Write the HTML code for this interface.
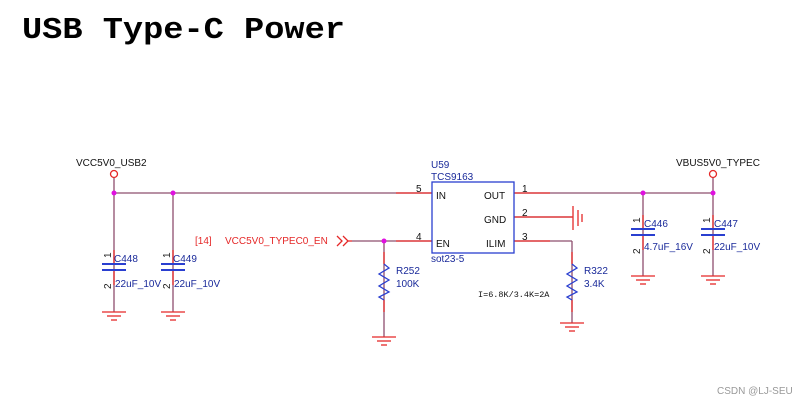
<!DOCTYPE html>
<html><head><meta charset="utf-8"><style>
body{margin:0;background:#fff;width:812px;height:405px;overflow:hidden}
svg{display:block}
.t{font-family:"Liberation Sans",sans-serif;font-size:10px}
</style></head><body>
<svg width="812" height="405" viewBox="0 0 812 405" xmlns="http://www.w3.org/2000/svg">
<text x="22" y="38" font-family="Liberation Mono,monospace" font-weight="bold" font-size="31" textLength="323" lengthAdjust="spacingAndGlyphs">USB Type-C Power</text>

<g stroke="#8e4f6e" stroke-width="1.3" fill="none">
<line x1="114" y1="178" x2="114" y2="312"/>
<line x1="114" y1="193" x2="432" y2="193"/>
<line x1="173" y1="193" x2="173" y2="312"/>
<line x1="352" y1="241" x2="432" y2="241"/>
<line x1="384" y1="241" x2="384" y2="337"/>
<line x1="514" y1="193" x2="713" y2="193"/>
<line x1="713" y1="178" x2="713" y2="276"/>
<line x1="643" y1="193" x2="643" y2="276"/>
<line x1="514" y1="217" x2="572" y2="217"/>
<line x1="514" y1="241" x2="572" y2="241"/>
<line x1="572" y1="241" x2="572" y2="323"/>
</g>
<g stroke="#e52828" stroke-width="1.3" fill="none">
<line x1="396" y1="193" x2="432" y2="193"/>
<line x1="396" y1="241" x2="432" y2="241"/>
<line x1="514" y1="193" x2="550" y2="193"/>
<line x1="514" y1="217" x2="550" y2="217"/>
<line x1="514" y1="241" x2="550" y2="241"/>
<line x1="114" y1="250" x2="114" y2="263"/><line x1="114" y1="271" x2="114" y2="285"/>
<line x1="173" y1="250" x2="173" y2="263"/><line x1="173" y1="271" x2="173" y2="285"/>
<line x1="643" y1="215" x2="643" y2="228"/><line x1="643" y1="236" x2="643" y2="250"/>
<line x1="713" y1="215" x2="713" y2="228"/><line x1="713" y1="236" x2="713" y2="250"/>
<line x1="384" y1="252" x2="384" y2="264"/><line x1="384" y1="300" x2="384" y2="312"/>
<line x1="572" y1="252" x2="572" y2="264"/><line x1="572" y1="300" x2="572" y2="312"/>
</g>
<g stroke="#e52828" stroke-width="1.3">
<g transform="translate(114,312)"><line x1="-12" y1="0" x2="12" y2="0"/><line x1="-7" y1="4" x2="7" y2="4"/><line x1="-3" y1="8" x2="3" y2="8"/></g>
<g transform="translate(173,312)"><line x1="-12" y1="0" x2="12" y2="0"/><line x1="-7" y1="4" x2="7" y2="4"/><line x1="-3" y1="8" x2="3" y2="8"/></g>
<g transform="translate(384,337)"><line x1="-12" y1="0" x2="12" y2="0"/><line x1="-7" y1="4" x2="7" y2="4"/><line x1="-3" y1="8" x2="3" y2="8"/></g>
<g transform="translate(572,323)"><line x1="-12" y1="0" x2="12" y2="0"/><line x1="-7" y1="4" x2="7" y2="4"/><line x1="-3" y1="8" x2="3" y2="8"/></g>
<g transform="translate(643,276)"><line x1="-12" y1="0" x2="12" y2="0"/><line x1="-7" y1="4" x2="7" y2="4"/><line x1="-3" y1="8" x2="3" y2="8"/></g>
<g transform="translate(713,276)"><line x1="-12" y1="0" x2="12" y2="0"/><line x1="-7" y1="4" x2="7" y2="4"/><line x1="-3" y1="8" x2="3" y2="8"/></g>
<line x1="573" y1="206" x2="573" y2="230"/><line x1="578" y1="210" x2="578" y2="226"/><line x1="582" y1="214" x2="582" y2="222"/>
</g>
<line x1="550" y1="217" x2="573" y2="217" stroke="#e52828" stroke-width="1.3"/>
<g stroke="#2a3fd0" stroke-width="2">
<line x1="102" y1="264" x2="126" y2="264"/><line x1="102" y1="270" x2="126" y2="270"/>
<line x1="161" y1="264" x2="185" y2="264"/><line x1="161" y1="270" x2="185" y2="270"/>
<line x1="631" y1="229" x2="655" y2="229"/><line x1="631" y1="235" x2="655" y2="235"/>
<line x1="701" y1="229" x2="725" y2="229"/><line x1="701" y1="235" x2="725" y2="235"/>
</g>
<g stroke="#2a3fd0" stroke-width="1.3" fill="none">
<polyline points="384,264 389,268 379,274 389,280 379,286 389,292 379,297 384,300"/>
<polyline points="572,264 577,268 567,274 577,280 567,286 577,292 567,297 572,300"/>
<rect x="432" y="182" width="82" height="71"/>
</g>
<circle cx="114" cy="174" r="3.5" fill="#fff" stroke="#e52828" stroke-width="1.3"/>
<circle cx="713" cy="174" r="3.5" fill="#fff" stroke="#e52828" stroke-width="1.3"/>
<g fill="#e010e0">
<circle cx="114" cy="193" r="2.5"/><circle cx="173" cy="193" r="2.5"/><circle cx="384" cy="241" r="2.5"/>
<circle cx="643" cy="193" r="2.5"/><circle cx="713" cy="193" r="2.5"/>
</g>
<polyline points="337,236 342,241 337,246" stroke="#e52828" fill="none" stroke-width="1.3"/>
<polyline points="343,236 348,241 343,246" stroke="#e52828" fill="none" stroke-width="1.3"/>
<line x1="348" y1="241" x2="352" y2="241" stroke="#e52828" stroke-width="1.3"/>

<g class="t" fill="#111">
<text x="76" y="166">VCC5V0_USB2</text>
<text x="676" y="166">VBUS5V0_TYPEC</text>
<text x="416" y="192">5</text><text x="416" y="240">4</text>
<text x="522" y="192">1</text><text x="522" y="216">2</text><text x="522" y="240">3</text>
<text x="436" y="199">IN</text><text x="436" y="247">EN</text>
<text x="484" y="199">OUT</text><text x="484" y="223">GND</text><text x="486" y="247">ILIM</text>
</g>
<g class="t" fill="#1a2a9a">
<text x="431" y="168">U59</text><text x="431" y="180">TCS9163</text><text x="431" y="262">sot23-5</text>
<text x="114" y="262">C448</text><text x="173" y="262">C449</text>
<text x="115" y="287">22uF_10V</text><text x="174" y="287">22uF_10V</text>
<text x="644" y="227">C446</text><text x="714" y="227">C447</text>
<text x="644" y="250">4.7uF_16V</text><text x="714" y="250">22uF_10V</text>
<text x="396" y="274">R252</text><text x="396" y="287">100K</text>
<text x="584" y="274">R322</text><text x="584" y="287">3.4K</text>
</g>
<g class="t" fill="#222" font-size="9">
<text transform="translate(111,258) rotate(-90)">1</text><text transform="translate(111,289) rotate(-90)">2</text>
<text transform="translate(170,258) rotate(-90)">1</text><text transform="translate(170,289) rotate(-90)">2</text>
<text transform="translate(640,223) rotate(-90)">1</text><text transform="translate(640,254) rotate(-90)">2</text>
<text transform="translate(710,223) rotate(-90)">1</text><text transform="translate(710,254) rotate(-90)">2</text>
</g>
<text x="478" y="297" font-family="Liberation Mono,monospace" font-size="8.5" fill="#111">I=6.8K/3.4K=2A</text>
<text x="195" y="244" class="t" fill="#e52828">[14]</text>
<text x="225" y="244" class="t" fill="#e52828">VCC5V0_TYPEC0_EN</text>
<text x="717" y="394" font-family="Liberation Sans,sans-serif" font-size="10" fill="#999">CSDN @LJ-SEU</text>
</svg>
</body></html>
